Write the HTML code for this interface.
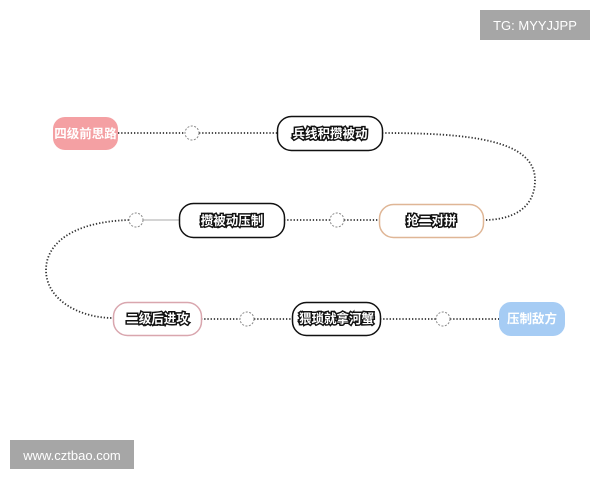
<!DOCTYPE html>
<html><head><meta charset="utf-8"><style>
html,body{margin:0;padding:0;background:#fff;width:600px;height:480px;overflow:hidden}
svg text{font-family:"Liberation Sans","Noto Sans CJK SC",sans-serif;font-weight:bold;font-size:12.5px}
.t{fill:#fff;stroke:#111;stroke-width:3;paint-order:stroke;text-anchor:middle}
.w{fill:#fff;text-anchor:middle;font-weight:normal}
</style></head><body>
<svg width="600" height="480" viewBox="0 0 600 480" xmlns="http://www.w3.org/2000/svg">
<g fill="none" stroke="#333" stroke-width="1.8" stroke-dasharray="1.3 1.9">
<line x1="118" y1="133" x2="185" y2="133"/>
<line x1="199" y1="133" x2="277" y2="133"/>
<path d="M382 133 C 470 133 535 140 535 180 C 535 210 510 220 484 220"/>
<line x1="284" y1="220" x2="330" y2="220"/>
<line x1="344" y1="220" x2="379" y2="220"/>
<path d="M129 220 C 70 222 46 245 46 270 C 46 300 80 318 113 318"/>
<line x1="201" y1="319" x2="240" y2="319"/>
<line x1="254" y1="319" x2="292" y2="319"/>
<line x1="380" y1="319" x2="436" y2="319"/>
<line x1="450" y1="319" x2="499" y2="319"/>
</g>
<line x1="143" y1="220" x2="179" y2="220" stroke="#aaa" stroke-width="1"/>
<g fill="#fff" stroke="#888" stroke-width="1" stroke-dasharray="2 1.5">
<circle cx="192" cy="133" r="7"/><circle cx="337" cy="220" r="7"/><circle cx="136" cy="220" r="7"/>
<circle cx="247" cy="319" r="7"/><circle cx="443" cy="319" r="7"/>
</g>
<rect x="53" y="117" width="65" height="33" rx="12" fill="#f4a0a3"/>
<text x="85.5" y="138" class="w" style="font-weight:bold">四级前思路</text>
<rect x="277.5" y="116.5" width="105" height="34" rx="14" fill="#fff" stroke="#111" stroke-width="1.5"/>
<text x="330" y="138" class="t">兵线积攒被动</text>
<rect x="379.5" y="204.5" width="104" height="33" rx="14" fill="#fff" stroke="#dfb696" stroke-width="1.5"/>
<text x="431.5" y="225" class="t">抢二对拼</text>
<rect x="179.5" y="203.5" width="105" height="34" rx="14" fill="#fff" stroke="#111" stroke-width="1.5"/>
<text x="232" y="225" class="t">攒被动压制</text>
<rect x="113.5" y="302.5" width="88" height="33" rx="14" fill="#fff" stroke="#d9a6ae" stroke-width="1.5"/>
<text x="157.5" y="323" class="t">二级后进攻</text>
<rect x="292.5" y="302.5" width="88" height="33" rx="14" fill="#fff" stroke="#111" stroke-width="1.5"/>
<text x="336.5" y="323" class="t">猥琐就拿河蟹</text>
<rect x="499" y="302" width="66" height="34" rx="12" fill="#a6ccf4"/>
<text x="532" y="323" class="w" style="font-weight:bold">压制敌方</text>
<rect x="480" y="10" width="110" height="30" fill="#a6a6a6"/>
<text x="535" y="30" class="w" style="font-size:13px">TG: MYYJJPP</text>
<rect x="10" y="440" width="124" height="29" fill="#a6a6a6"/>
<text x="72" y="460" class="w" style="font-size:13px">www.cztbao.com</text>
</svg>
</body></html>
